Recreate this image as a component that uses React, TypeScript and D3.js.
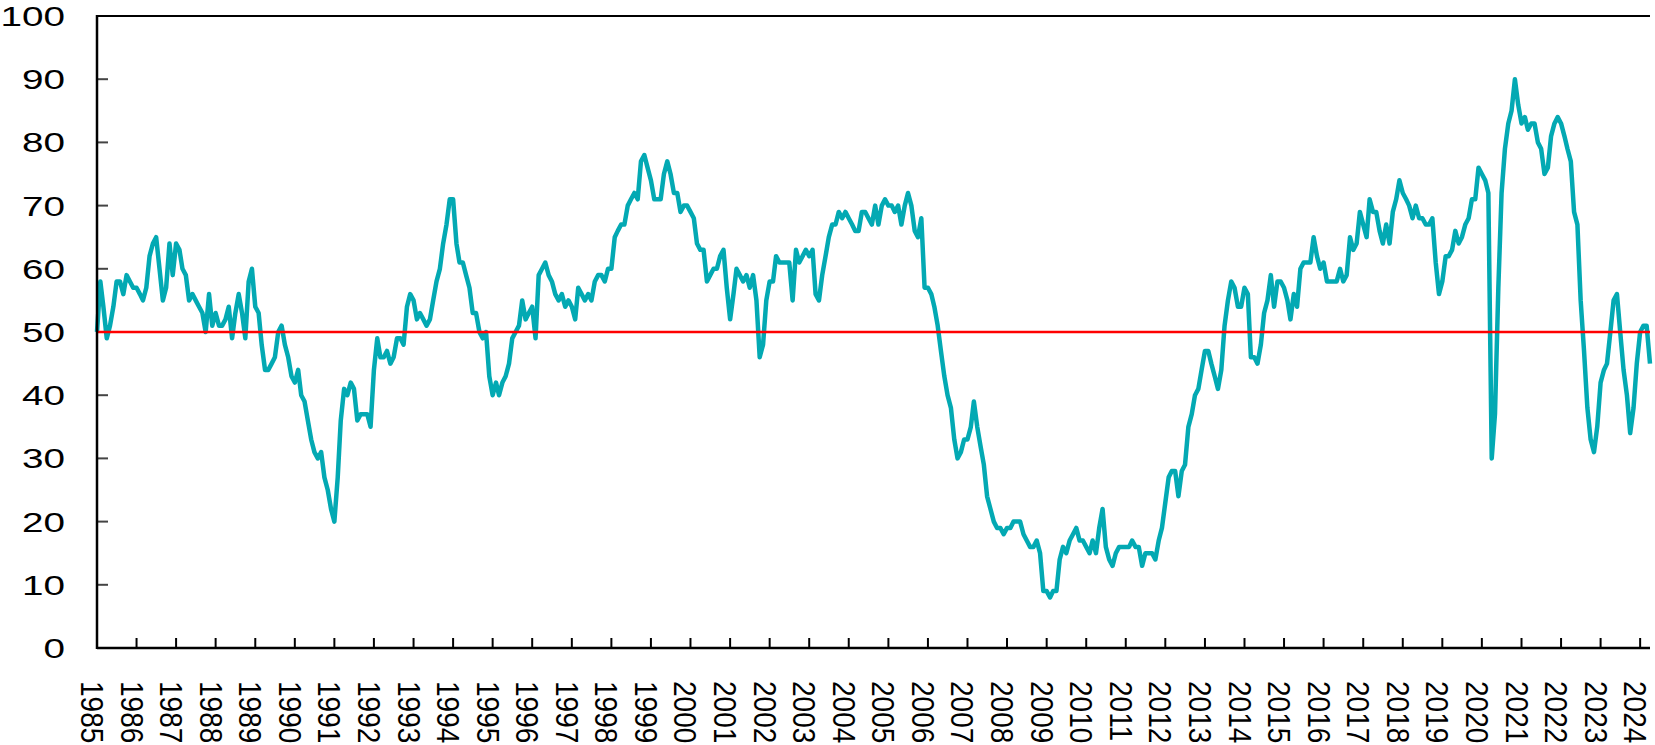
import React, { useEffect, useRef } from "react";
import * as d3 from "d3";

// monthly index values, Jan 1985 onwards
const values1985_1994 = [
  50, 58, 54, 49, 51, 54, 58, 58, 56, 59, 58, 57,
  57, 56, 55, 57, 62, 64, 65, 60, 55, 57, 64, 59,
  64, 63, 60, 59, 55, 56, 55, 54, 53, 50, 56, 51,
  53, 51, 51, 52, 54, 49, 53, 56, 53, 49, 58, 60,
  54, 53, 48, 44, 44, 45, 46, 50, 51, 48, 46, 43,
  42, 44, 40, 39, 36, 33, 31, 30, 31, 27, 25, 22,
  20, 27, 36, 41, 40, 42, 41, 36, 37, 37, 37, 35,
  44, 49, 46, 46, 47, 45, 46, 49, 49, 48, 54, 56,
  55, 52, 53, 52, 51, 52, 55, 58, 60, 64, 67, 71,
  71, 64, 61, 61, 59, 57, 53, 53, 50, 49, 50, 43,
];
const values1995_2004 = [
  40, 42, 40, 42, 43, 45, 49, 50, 51, 55, 52, 53,
  54, 49, 59, 60, 61, 59, 58, 56, 55, 56, 54, 55,
  54, 52, 57, 56, 55, 56, 55, 58, 59, 59, 58, 60,
  60, 65, 66, 67, 67, 70, 71, 72, 71, 77, 78, 76,
  74, 71, 71, 71, 75, 77, 75, 72, 72, 69, 70, 70,
  69, 68, 64, 63, 63, 58, 59, 60, 60, 62, 63, 57,
  52, 56, 60, 59, 58, 59, 57, 59, 55, 46, 48, 55,
  58, 58, 62, 61, 61, 61, 61, 55, 63, 61, 62, 63,
  62, 63, 56, 55, 59, 62, 65, 67, 67, 69, 68, 69,
  68, 67, 66, 66, 69, 69, 68, 67, 70, 67, 70, 71,
];
const values2005_2014 = [
  70, 70, 69, 70, 67, 70, 72, 70, 66, 65, 68, 57,
  57, 56, 54, 51, 47, 43, 40, 38, 33, 30, 31, 33,
  33, 35, 39, 35, 32, 29, 24, 22, 20, 19, 19, 18,
  19, 19, 20, 20, 20, 18, 17, 16, 16, 17, 15, 9,
  9, 8, 9, 9, 14, 16, 15, 17, 18, 19, 17, 17,
  16, 15, 17, 15, 19, 22, 16, 14, 13, 15, 16, 16,
  16, 16, 17, 16, 16, 13, 15, 15, 15, 14, 17, 19,
  23, 27, 28, 28, 24, 28, 29, 35, 37, 40, 41, 44,
  47, 47, 45, 43, 41, 44, 51, 55, 58, 57, 54, 54,
  57, 56, 46, 46, 45, 48, 53, 55, 59, 54, 58, 58,
];
const values2015_2024 = [
  57, 55, 52, 56, 54, 60, 61, 61, 61, 65, 62, 60,
  61, 58, 58, 58, 58, 60, 58, 59, 65, 63, 64, 69,
  67, 65, 71, 69, 69, 66, 64, 67, 64, 69, 71, 74,
  72, 71, 70, 68, 70, 68, 68, 67, 67, 68, 61, 56,
  58, 62, 62, 63, 66, 64, 65, 67, 68, 71, 71, 76,
  75, 74, 72, 30, 37, 57, 72, 79, 83, 85, 90, 86,
  83, 84, 82, 83, 83, 80, 79, 75, 76, 81, 83, 84,
  83, 81, 79, 77, 69, 67, 55, 47, 38, 33, 31, 35,
  42, 44, 45, 50, 55, 56, 50, 44, 40, 34, 38, 45,
  50, 51, 51, 45,
];

const yTicks = [0, 10, 20, 30, 40, 50, 60, 70, 80, 90, 100];
const yearLabels = [
  1985, 1986, 1987, 1988, 1989, 1990, 1991, 1992, 1993, 1994,
  1995, 1996, 1997, 1998, 1999, 2000, 2001, 2002, 2003, 2004,
  2005, 2006, 2007, 2008, 2009, 2010, 2011, 2012, 2013, 2014,
  2015, 2016, 2017, 2018, 2019, 2020, 2021, 2022, 2023, 2024,
];
const referenceLevel = 50;

const W = 1655, H = 745;
const left = 97, right = 1650, top = 16, bottom = 648;
const FONT = "'Liberation Sans', Arial, sans-serif";

export default function App() {
  const ref = useRef<SVGSVGElement>(null);

  useEffect(() => {
    const svg = d3.select(ref.current);
    svg.selectAll("*").remove();

    const all = [...values1985_1994, ...values1995_2004, ...values2005_2014, ...values2015_2024];
    const data = all.map((v, i) => ({ date: new Date(1985, i, 1), value: v }));

    const x = d3.scaleTime().domain(d3.extent(data, d => d.date) as [Date, Date]).range([left, right]);
    const y = d3.scaleLinear().domain([0, 100]).range([bottom, top]);

    // frame top
    svg.append("line").attr("x1", left).attr("x2", right).attr("y1", top).attr("y2", top)
      .attr("stroke", "#000").attr("stroke-width", 2);

    // y ticks (inside)
    svg.append("g").selectAll("line").data(yTicks.filter(t => t > 0 && t < 100)).join("line")
      .attr("x1", left).attr("x2", left + 11)
      .attr("y1", d => y(d)).attr("y2", d => y(d))
      .attr("stroke", "#444").attr("stroke-width", 2);

    // x ticks (inside, at each year)
    svg.append("g").selectAll("line").data(yearLabels.slice(1)).join("line")
      .attr("x1", d => x(new Date(d, 0, 1))).attr("x2", d => x(new Date(d, 0, 1)))
      .attr("y1", bottom).attr("y2", bottom - 10)
      .attr("stroke", "#000").attr("stroke-width", 2);

    // y labels
    svg.append("g").selectAll("text").data(yTicks).join("text")
      .attr("transform", d => `translate(65,${y(d)}) scale(1.38,1)`)
      .attr("text-anchor", "end").attr("dominant-baseline", "central")
      .attr("font-family", FONT).attr("font-size", 28).attr("fill", "#000")
      .text(d => d);

    // x labels, rotated
    svg.append("g").selectAll("text").data(yearLabels).join("text")
      .attr("transform", d => `translate(${x(new Date(d, 0, 1)) - 5},681) rotate(90) scale(1,1.1)`)
      .attr("text-anchor", "start").attr("dominant-baseline", "central")
      .attr("font-family", FONT).attr("font-size", 28).attr("fill", "#000")
      .text(d => d);

    // series
    const line = d3.line<{ date: Date; value: number }>().x(d => x(d.date)).y(d => y(d.value));
    svg.append("path").datum(data).attr("d", line)
      .attr("fill", "none").attr("stroke", "#03a9b3").attr("stroke-width", 4.5)
      .attr("stroke-linejoin", "round");

    // 50 line
    svg.append("line").attr("x1", left).attr("x2", right)
      .attr("y1", y(referenceLevel)).attr("y2", y(referenceLevel))
      .attr("stroke", "#ff0000").attr("stroke-width", 2.5);

    // axes on top
    svg.append("line").attr("x1", left).attr("x2", left).attr("y1", top - 1).attr("y2", bottom + 1)
      .attr("stroke", "#000").attr("stroke-width", 2.5);
    svg.append("line").attr("x1", left).attr("x2", right).attr("y1", bottom).attr("y2", bottom)
      .attr("stroke", "#000").attr("stroke-width", 2.5);
  }, []);

  return (
    <div style={{ position: "absolute", left: 0, top: 0 }}>
      <svg ref={ref} width={W} height={H} style={{ display: "block", background: "#fff" }} />
    </div>
  );
}
